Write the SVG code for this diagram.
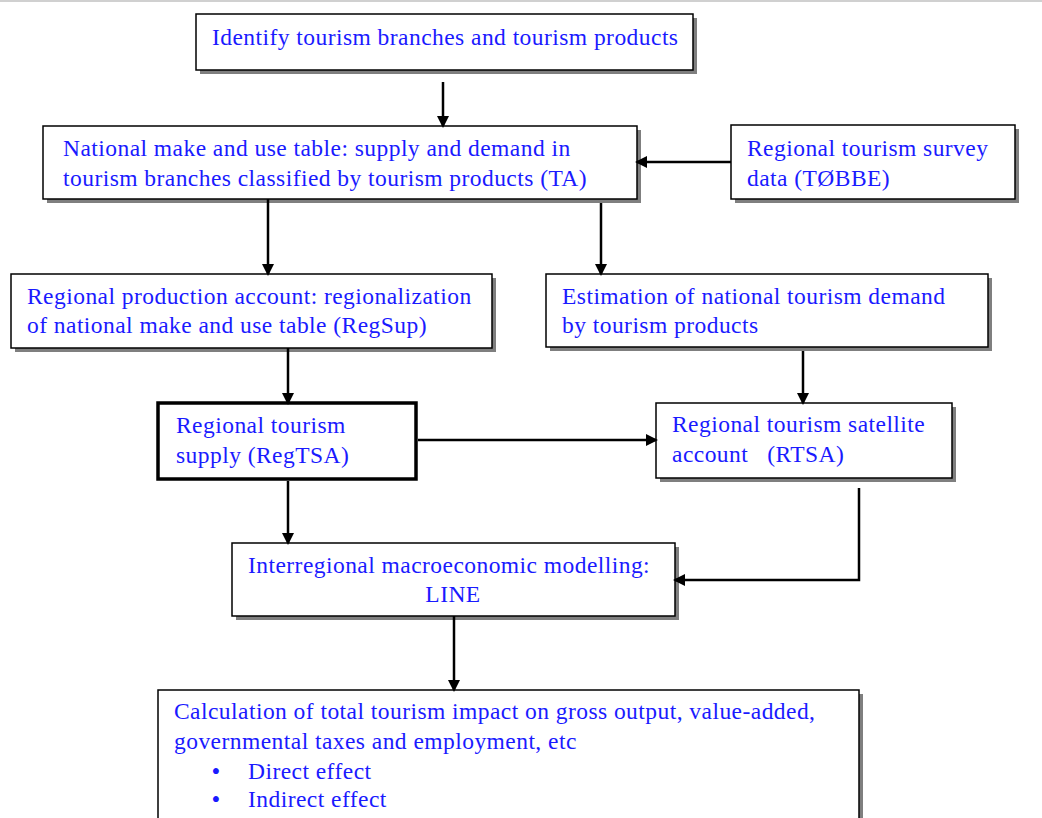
<svg xmlns="http://www.w3.org/2000/svg" width="1042" height="818" viewBox="0 0 1042 818">
<style>
.sh{fill:#7f7f7f}
.bx{fill:#fff;stroke:#000;stroke-width:1.5}
.thick{fill:#fff;stroke:#000;stroke-width:3.5}
.t{font-family:"Liberation Serif","Times New Roman",serif;font-size:23.5px;letter-spacing:0.45px;fill:#1a1aff}
.b{font-family:"Liberation Serif","Times New Roman",serif;font-size:25px;fill:#1a1aff}
.c{fill:none;stroke:#000;stroke-width:2.5}
</style>
<defs>
<marker id="ah" markerWidth="12" markerHeight="12" refX="10" refY="6" orient="auto" markerUnits="userSpaceOnUse">
<path d="M0,0 L12,6 L0,12 Z" fill="#000"/>
</marker>
</defs>
<rect width="1042" height="818" fill="#fff"/>
<line x1="0" y1="1" x2="1042" y2="1" stroke="#d0d0d0" stroke-width="2"/>

<g id="n1">
<rect class="sh" x="200" y="18" width="497" height="56"/>
<rect class="bx" x="196" y="14" width="497" height="56"/>
<text class="t" x="212" y="45">Identify tourism branches and tourism products</text>
</g>
<g id="n2">
<rect class="sh" x="47" y="130" width="594" height="73"/>
<rect class="bx" x="43" y="126" width="594" height="73"/>
<text class="t" x="63" y="156">National make and use table: supply and demand in</text>
<text class="t" x="63" y="186">tourism branches classified by tourism products (TA)</text>
</g>
<g id="n3">
<rect class="sh" x="735" y="129" width="284" height="74"/>
<rect class="bx" x="731" y="125" width="284" height="74"/>
<text class="t" x="747" y="156">Regional tourism survey</text>
<text class="t" x="747" y="186">data (TØBBE)</text>
</g>
<g id="n4">
<rect class="sh" x="15" y="278" width="481" height="74"/>
<rect class="bx" x="11" y="274" width="481" height="74"/>
<text class="t" x="27" y="304">Regional production account: regionalization</text>
<text class="t" x="27" y="333">of national make and use table (RegSup)</text>
</g>
<g id="n5">
<rect class="sh" x="550" y="278" width="442" height="73"/>
<rect class="bx" x="546" y="274" width="442" height="73"/>
<text class="t" x="562" y="304">Estimation of national tourism demand</text>
<text class="t" x="562" y="333">by tourism products</text>
</g>
<g id="n6">
<rect class="thick" x="158" y="403" width="258" height="76"/>
<text class="t" x="176" y="433">Regional tourism</text>
<text class="t" x="176" y="463">supply (RegTSA)</text>
</g>
<g id="n7">
<rect class="sh" x="660" y="407" width="296" height="75"/>
<rect class="bx" x="656" y="403" width="296" height="75"/>
<text class="t" x="672" y="432">Regional tourism satellite</text>
<text class="t" x="672" y="462" xml:space="preserve">account   (RTSA)</text>
</g>
<g id="n8">
<rect class="sh" x="236" y="547" width="443" height="73"/>
<rect class="bx" x="232" y="543" width="443" height="73"/>
<text class="t" x="248" y="573">Interregional macroeconomic modelling:</text>
<text class="t" x="453" y="602" text-anchor="middle">LINE</text>
</g>
<g id="n9">
<rect class="sh" x="162" y="694" width="701" height="130"/>
<rect class="bx" x="158" y="690" width="701" height="134"/>
<text class="t" x="174" y="719">Calculation of total tourism impact on gross output, value-added,</text>
<text class="t" x="174" y="749">governmental taxes and employment, etc</text>
<text class="b" x="216" y="780" text-anchor="middle">•</text>
<text class="t" x="248" y="779">Direct effect</text>
<text class="b" x="216" y="808" text-anchor="middle">•</text>
<text class="t" x="248" y="807">Indirect effect</text>
</g>

<g id="connectors">
<line class="c" x1="443" y1="82" x2="443" y2="126" marker-end="url(#ah)"/>
<line class="c" x1="731" y1="162" x2="637" y2="162" marker-end="url(#ah)"/>
<line class="c" x1="268" y1="199" x2="268" y2="274" marker-end="url(#ah)"/>
<line class="c" x1="601" y1="203" x2="601" y2="274" marker-end="url(#ah)"/>
<line class="c" x1="288" y1="348" x2="288" y2="403" marker-end="url(#ah)"/>
<line class="c" x1="803" y1="351" x2="803" y2="403" marker-end="url(#ah)"/>
<line class="c" x1="418" y1="440" x2="656" y2="440" marker-end="url(#ah)"/>
<line class="c" x1="288" y1="481" x2="288" y2="543" marker-end="url(#ah)"/>
<polyline class="c" points="859,488 859,580 675,580" marker-end="url(#ah)"/>
<line class="c" x1="454" y1="616" x2="454" y2="690" marker-end="url(#ah)"/>
</g>
</svg>
